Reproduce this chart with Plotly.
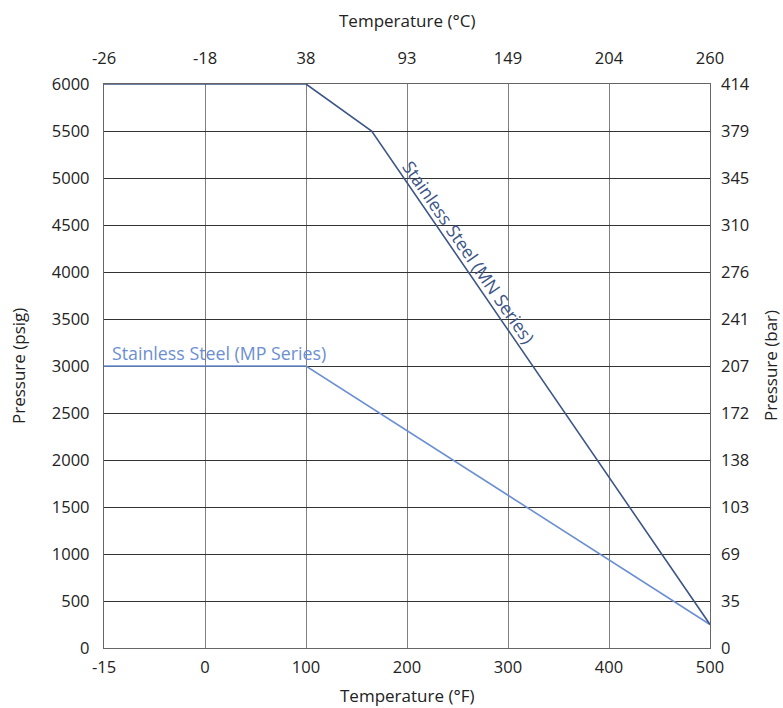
import numpy as np
import plotly.graph_objects as go

# Tick labels
temp_f_ticks = [-15, 0, 100, 200, 300, 400, 500]
temp_c_ticks = ["-26", "-18", "38", "93", "149", "204", "260"]
psig_ticks = [0, 500, 1000, 1500, 2000, 2500, 3000, 3500, 4000, 4500, 5000, 5500, 6000]
bar_ticks = ["0", "35", "69", "103", "138", "172", "207", "241", "276", "310", "345", "379", "414"]

# Series (temperature in °F, pressure in psig)
mn_temp_f = [-15, 100, 165, 500]
mn_psig = [6000, 6000, 5500, 250]
mp_temp_f = [-15, 100, 500]
mp_psig = [3000, 3000, 250]

idx = list(range(len(temp_f_ticks)))


def fpos(vals):
    # the chart's temperature axis spaces its ticks evenly
    return list(np.interp(vals, temp_f_ticks, idx))


MN_COLOR = "#3d5688"
MP_COLOR = "#6b8fd1"
FONT = "Open Sans"
TXT = "#222"

fig = go.Figure()
fig.add_trace(go.Scatter(x=fpos(mp_temp_f), y=mp_psig, mode="lines",
                         line=dict(color=MP_COLOR, width=1.6), showlegend=False,
                         hoverinfo="skip"))
fig.add_trace(go.Scatter(x=fpos(mn_temp_f), y=mn_psig, mode="lines",
                         line=dict(color=MN_COLOR, width=1.6), showlegend=False,
                         hoverinfo="skip"))
# invisible trace for secondary axes
fig.add_trace(go.Scatter(x=[idx[0], idx[-1]], y=[0, 6000], xaxis="x2", yaxis="y2",
                         mode="markers", marker=dict(opacity=0), showlegend=False,
                         hoverinfo="skip"))

tickfont = dict(family=FONT, size=16.5, color=TXT)
titlefont = dict(family=FONT, size=17, color=TXT)

fig.update_layout(
    width=783, height=708,
    margin=dict(l=104, r=73, t=84, b=60, autoexpand=False),
    paper_bgcolor="white", plot_bgcolor="white",
    font=dict(family=FONT),
    xaxis=dict(range=[idx[0], idx[-1]], tickmode="array", tickvals=idx,
               ticktext=[str(t) for t in temp_f_ticks], tickfont=tickfont,
               showgrid=True, gridcolor="#808080", gridwidth=1.3,
               showline=True, linecolor="#666", linewidth=1.3, mirror=True,
               zeroline=False, ticks="", ticklabelstandoff=4, automargin=False),
    xaxis2=dict(range=[idx[0], idx[-1]], overlaying="x", side="top",
                tickmode="array", tickvals=idx, ticktext=temp_c_ticks,
                tickfont=tickfont, showgrid=False, zeroline=False, ticks="",
                ticklabelstandoff=16, automargin=False),
    yaxis=dict(range=[0, 6000], tickmode="array", tickvals=psig_ticks,
               ticktext=[str(t) for t in psig_ticks], tickfont=tickfont,
               showgrid=True, gridcolor="#333", gridwidth=1.2,
               showline=True, linecolor="#666", linewidth=1.3, mirror=True,
               zeroline=False, ticks="", ticklabelstandoff=10, automargin=False),
    yaxis2=dict(range=[0, 6000], overlaying="y", side="right",
                tickmode="array", tickvals=psig_ticks, ticktext=bar_ticks,
                tickfont=tickfont, showgrid=False, zeroline=False, ticks="",
                ticklabelstandoff=10, automargin=False),
    annotations=[
        dict(x=idx[0], y=3000, xref="x", yref="y", text="Stainless Steel (MP Series)",
             showarrow=False, xanchor="left", yanchor="bottom", xshift=6, yshift=-1,
             font=dict(family=FONT, size=17.8, color=MP_COLOR)),
        dict(x=3.61, y=4210, xref="x", yref="y", text="Stainless Steel (MN Series)",
             showarrow=False, textangle=55.4, xanchor="center", yanchor="middle",
             font=dict(family=FONT, size=17.8, color=MN_COLOR)),
        # axis titles
        dict(x=0.5, y=1, xref="paper", yref="paper", text="Temperature (°C)",
             showarrow=False, xanchor="center", yanchor="middle", yshift=64,
             font=titlefont),
        dict(x=0.5, y=0, xref="paper", yref="paper", text="Temperature (°F)",
             showarrow=False, xanchor="center", yanchor="middle", yshift=-47,
             font=titlefont),
        dict(x=0, y=0.5, xref="paper", yref="paper", text="Pressure (psig)",
             showarrow=False, xanchor="center", yanchor="middle", xshift=-86,
             textangle=-90, font=titlefont),
        dict(x=1, y=0.5, xref="paper", yref="paper", text="Pressure (bar)",
             showarrow=False, xanchor="center", yanchor="middle", xshift=60,
             textangle=-90, font=titlefont),
    ],
)

fig.write_html("out.html", config={"displayModeBar": False},
               post_script="document.body.style.margin='0';document.body.style.overflow='hidden';")
